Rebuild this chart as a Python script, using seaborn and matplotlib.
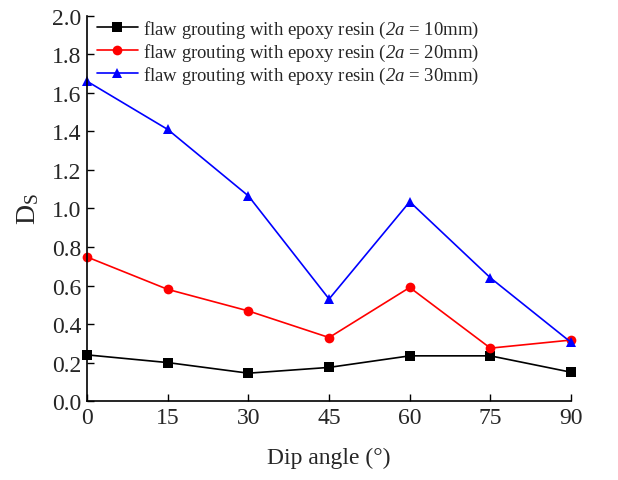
import matplotlib
matplotlib.use("Agg")
import matplotlib.pyplot as plt
import seaborn as sns
import pandas as pd

# datos
dip_angle = [0, 15, 30, 45, 60, 75, 90]
ds_10mm = [0.24, 0.20, 0.145, 0.175, 0.235, 0.235, 0.15]
ds_20mm = [0.748, 0.58, 0.468, 0.33, 0.59, 0.275, 0.317]
ds_30mm = [1.66, 1.41, 1.065, 0.53, 1.035, 0.64, 0.305]

labels = [
    r"flaw grouting with epoxy resin ($\mathcal{2a}$ = 10mm)",
    r"flaw grouting with epoxy resin ($\mathcal{2a}$ = 20mm)",
    r"flaw grouting with epoxy resin ($\mathcal{2a}$ = 30mm)",
]

df = pd.concat([
    pd.DataFrame({"angle": dip_angle, "Ds": ds_10mm, "serie": labels[0]}),
    pd.DataFrame({"angle": dip_angle, "Ds": ds_20mm, "serie": labels[1]}),
    pd.DataFrame({"angle": dip_angle, "Ds": ds_30mm, "serie": labels[2]}),
])

sns.set_style("ticks")
plt.rcParams["font.family"] = ["Liberation Serif", "DejaVu Serif"]
plt.rcParams["mathtext.fontset"] = "custom"
plt.rcParams["mathtext.rm"] = "Liberation Serif"
plt.rcParams["mathtext.it"] = "Liberation Serif:italic"
plt.rcParams["mathtext.cal"] = "Liberation Serif:italic"
plt.rcParams["mathtext.bf"] = "Liberation Serif:bold"
plt.rcParams["xtick.direction"] = "in"
plt.rcParams["ytick.direction"] = "in"

fig = plt.figure(figsize=(6.18, 4.81), dpi=100)
ax = fig.add_axes([0.141, 0.164, 0.783, 0.801])

colors = {labels[0]: "black", labels[1]: "red", labels[2]: "blue"}
markers = {labels[0]: "s", labels[1]: "o", labels[2]: "^"}

sns.lineplot(data=df, x="angle", y="Ds", hue="serie", style="serie",
             palette=colors, markers=markers, dashes=False, ax=ax,
             linewidth=1.2, markersize=7, markeredgewidth=0, clip_on=False)

ax.set_xlim(0, 90)
ax.set_ylim(0, 2.0)
ax.set_xticks(dip_angle)
ax.set_yticks([i * 0.2 for i in range(11)])
ax.set_yticklabels([f"{i * 0.2:.1f}" for i in range(11)])
ax.tick_params(labelsize=17, length=5, width=1, color="black", pad=4)
ax.set_xlabel("Dip angle (°)", fontsize=17, labelpad=14)
ax.set_ylabel(r"D$_\mathrm{S}$", fontsize=20, labelpad=8)
sns.despine(ax=ax)
for s in ["left", "bottom"]:
    ax.spines[s].set_linewidth(1.2)
    ax.spines[s].set_color("black")

leg = ax.legend(loc="upper left", frameon=False, fontsize=13.5, handlelength=2.2,
                borderaxespad=0.1, labelspacing=0.1, handletextpad=0.3,
                bbox_to_anchor=(0.0, 1.017))

plt.savefig("out.png", dpi=100)
